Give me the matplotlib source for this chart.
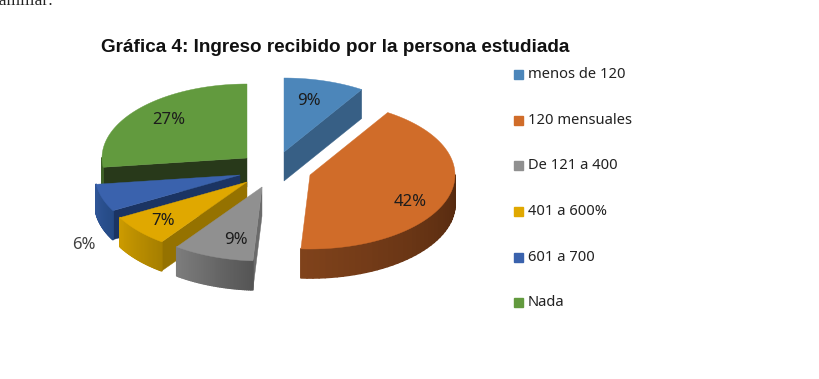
import numpy as np
import matplotlib
matplotlib.use("Agg")
import matplotlib.pyplot as plt
from matplotlib.patches import Polygon, Rectangle

# Data
categories = ["menos de 120", "120 mensuales", "De 121 a 400", "401 a 600%", "601 a 700", "Nada"]
values = [9, 42, 9, 7, 6, 27]
labels = ["9%", "42%", "9%", "7%", "6%", "27%"]

# Colours: top face, cut face, outer side (left end, right end)
top_colors = ["#4c86ba", "#d06c29", "#909090", "#e0a800", "#3a62ad", "#629a3e"]
cut_colors = ["#375f85", "#542a10", "#6b6b6b", "#957200", "#1b3463", "#28391a"]
side_left = ["#375f85", "#7f421b", "#7c7c7c", "#cb9a00", "#2f5596", "#3e6127"]
side_right = ["#375f85", "#54290f", "#555555", "#a67f00", "#254a85", "#3e6127"]

# Layout in pixels: where each exploded slice has its apex
apex_x = [284, 310, 262, 247, 240, 247]
apex_y = [152, 175, 187, 182, 175, 158]
label_x = [309, 410, 236, 163, 84, 169]
label_y = [101, 202, 240, 221, 245, 120]
legend_y = [74, 120, 165, 211, 257, 302]
draw_order = [5, 4, 3, 2, 0, 1]
rx, ry, depth = 145, 74, 29

fig = plt.figure(figsize=(8.2, 3.79), dpi=100)
ax = fig.add_axes([0, 0, 1, 1])
ax.set_xlim(0, 820)
ax.set_ylim(379, 0)
ax.axis("off")


def point(i, t):
    return apex_x[i] + rx * np.sin(t), apex_y[i] - ry * np.cos(t)


def draw_cut(i, t):
    x, y = point(i, t)
    pts = [(apex_x[i], apex_y[i]), (x, y), (x, y + depth), (apex_x[i], apex_y[i] + depth)]
    ax.add_patch(Polygon(pts, color=cut_colors[i], lw=0.3))


edges = np.radians(np.concatenate([[0], np.cumsum(values)]) * 3.6)

for i in draw_order:
    t0, t1 = edges[i], edges[i + 1]

    # cut faces that look towards the viewer
    if np.sin(t0) < -1e-6:
        draw_cut(i, t0)
    if np.sin(t1) > 1e-6:
        draw_cut(i, t1)

    # outer wall, only the front half of the ellipse shows
    a, b = max(t0, np.pi / 2), min(t1, 3 * np.pi / 2)
    if b > a:
        ts = np.linspace(a, b, 40)
        c_right = np.array(matplotlib.colors.to_rgb(side_right[i]))
        c_left = np.array(matplotlib.colors.to_rgb(side_left[i]))
        for k in range(len(ts) - 1):
            x0, y0 = point(i, ts[k])
            x1, y1 = point(i, ts[k + 1])
            f = k / (len(ts) - 2)
            col = c_right + (c_left - c_right) * f
            ax.add_patch(Polygon([(x0, y0), (x1, y1), (x1, y1 + depth), (x0, y0 + depth)],
                                 facecolor=col, edgecolor=col, lw=1.2, joinstyle="round"))

    # top face
    ts = np.linspace(t0, t1, 80)
    xs, ys = point(i, ts)
    pts = [(apex_x[i], apex_y[i])] + list(zip(xs, ys))
    ax.add_patch(Polygon(pts, color=top_colors[i], lw=0.3))

for i, lab in enumerate(labels):
    ax.text(label_x[i], label_y[i], lab, fontsize=12, family="Noto Sans", ha="center", va="center",
            color="#404040" if i == 4 else "#1c1c1c")

# legend
for i, cat in enumerate(categories):
    ax.add_patch(Rectangle((514, legend_y[i] - 4.5), 9, 9, color=top_colors[i]))
    ax.text(528, legend_y[i] + 0.5, cat, fontsize=10.6, family="Noto Sans", va="center", color="#222222")

ax.text(101, 48, "Gráfica 4: Ingreso recibido por la persona estudiada", fontsize=13.55,
        family="Liberation Sans", weight="bold", va="center", color="#111111")
ax.text(-7, 5, "familiar:", fontsize=12.5, family="Liberation Serif", va="baseline", color="#222222")

fig.savefig("out.png", dpi=100)
